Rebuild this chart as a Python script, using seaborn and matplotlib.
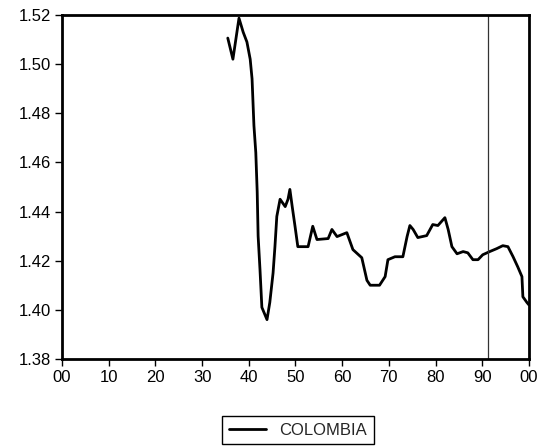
import pandas as pd
import matplotlib.pyplot as plt
import seaborn as sns

# Data
year = [35.5, 36.6, 37.9, 38.8, 39.6, 40.3, 40.7, 40.9, 41.1, 41.5, 41.8, 42.0, 42.4, 42.8,
        43.9, 44.5, 45.2, 45.6, 46.0, 46.7, 47.8, 48.4, 48.8, 49.3, 49.9, 50.5, 52.7, 53.7,
        54.6, 57.0, 57.8, 58.9, 61.0, 62.3, 64.2, 65.3, 66.0, 68.0, 69.2, 69.8, 71.3, 73.0,
        73.9, 74.5, 75.2, 76.2, 78.1, 79.4, 80.5, 82.0, 82.7, 83.5, 84.6, 85.9, 86.9, 88.0,
        89.1, 90.1, 91.6, 93.1, 94.4, 95.5, 96.6, 97.6, 98.5, 98.7, 99.6, 100.0]
colombia = [1.5106, 1.502, 1.5187, 1.513, 1.509, 1.502, 1.494, 1.4845, 1.475, 1.464, 1.448,
            1.430, 1.4163, 1.401, 1.396, 1.403, 1.415, 1.4257, 1.438, 1.445, 1.442, 1.445,
            1.449, 1.442, 1.434, 1.4257, 1.4257, 1.434, 1.4286, 1.429, 1.4327, 1.4298, 1.4314,
            1.4245, 1.4212, 1.412, 1.410, 1.410, 1.4135, 1.4204, 1.4216, 1.4216, 1.4298,
            1.4343, 1.4327, 1.4294, 1.4302, 1.4347, 1.4343, 1.4375, 1.4327, 1.4257, 1.4228,
            1.4237, 1.4232, 1.4204, 1.4204, 1.4224, 1.4237, 1.4249, 1.4261, 1.4257, 1.4216,
            1.4175, 1.4135, 1.4053, 1.4029, 1.402]
x_ticks = [0, 10, 20, 30, 40, 50, 60, 70, 80, 90, 100]
x_labels = ['00', '10', '20', '30', '40', '50', '60', '70', '80', '90', '00']
y_ticks = [1.38, 1.40, 1.42, 1.44, 1.46, 1.48, 1.50, 1.52]
break_year = 91.3

df = pd.DataFrame({'year': year, 'COLOMBIA': colombia})

sns.set_style('ticks')
plt.rcParams['font.family'] = ['Liberation Sans', 'DejaVu Sans']

fig = plt.figure(figsize=(5.37, 4.47), dpi=100)
ax = fig.add_axes([0.1155, 0.197, 0.8695, 0.7695])

sns.lineplot(data=df, x='year', y='COLOMBIA', color='black', lw=2.0, ax=ax, label='COLOMBIA', legend=False)
ax.axvline(break_year, color='#333333', lw=0.9)

ax.set_xlim(0, 100)
ax.set_ylim(1.38, 1.52)
ax.set_xticks(x_ticks)
ax.set_xticklabels(x_labels)
ax.set_yticks(y_ticks)
ax.set_yticklabels([f'{v:.2f}' for v in y_ticks])
ax.set_xlabel('')
ax.set_ylabel('')
ax.tick_params(labelsize=12, length=5, width=1, pad=3, colors='black', direction='out')
for s in ax.spines.values():
    s.set_linewidth(2)
    s.set_color('black')

handles, labels = ax.get_legend_handles_labels()
fig.legend(handles, labels, loc='center', bbox_to_anchor=(0.555, 0.038), frameon=True,
           fancybox=False, edgecolor='black', framealpha=1, fontsize=12, handlelength=2.2)

fig.savefig('out.png', dpi=100)
